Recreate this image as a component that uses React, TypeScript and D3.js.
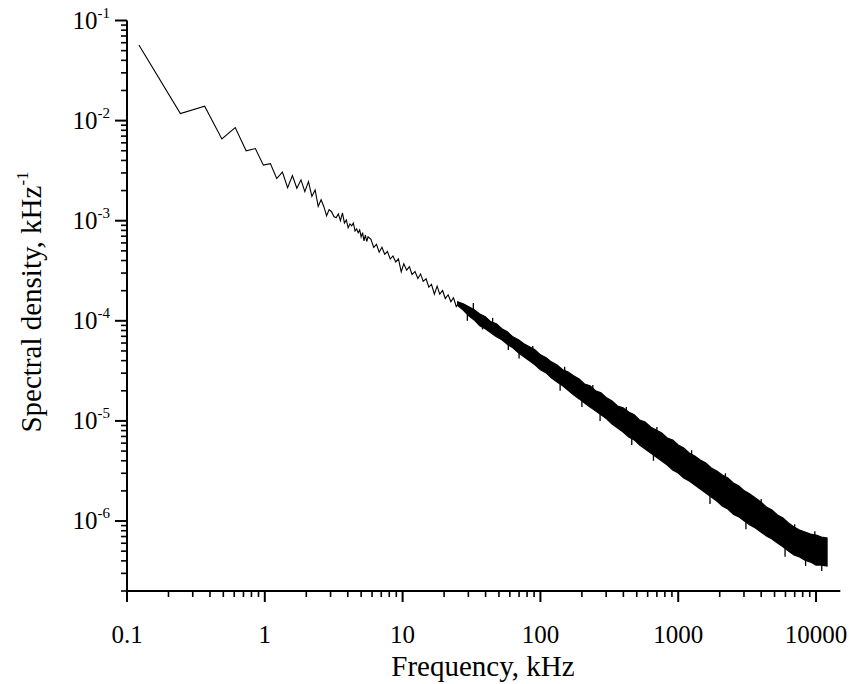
import React from 'react';
import * as d3 from 'd3';

const W = 849;
const H = 684;

// Low-frequency part: the visible jagged trace (kHz, kHz^-1)
const lineFreq = [
  0.122, 0.244, 0.366, 0.488, 0.61, 0.732, 0.854, 0.976, 1.098, 1.22,
  1.342, 1.464, 1.586, 1.708, 1.83, 1.952, 2.074, 2.196, 2.318, 2.44,
  2.562, 2.684, 2.806, 2.928, 3.05, 3.172, 3.294, 3.416, 3.538, 3.66,
  3.782, 3.904, 4.026, 4.148, 4.27, 4.392, 4.514, 4.636, 4.758, 4.88,
  5.002, 5.124, 5.246, 5.368, 5.49, 5.612,
  5.89, 6.17, 6.46, 6.76, 7.08, 7.41, 7.76, 8.13, 8.51, 8.91,
  9.33, 9.77, 10.2, 10.7, 11.2, 11.7, 12.3, 12.9, 13.5, 14.1,
  14.8, 15.5, 16.2, 17.0, 17.8, 18.6, 19.5, 20.4, 21.4, 22.4,
  23.4, 24.5, 25.7,
];
const lineDensity = [
  0.0569, 0.01175, 0.01393, 0.00656, 0.00851, 0.00499, 0.00526, 0.00359, 0.00372, 0.00264,
  0.00306, 0.00214, 0.00282, 0.00211, 0.00256, 0.00195, 0.00246, 0.00175, 0.00203, 0.00139,
  0.00162, 0.00138, 0.00112, 0.00129, 0.00123, 0.0011, 0.00107, 0.00117, 0.001, 0.0012,
  0.00095, 0.00102, 0.00085, 0.00093, 0.00089, 0.00095, 0.00079, 0.00083, 0.00076, 0.00081,
  0.00069, 0.00076, 0.00063, 0.00072, 0.00062, 0.00069,
  6.5e-4, 5.42e-4, 5.81e-4, 4.84e-4, 5.43e-4, 4.63e-4, 4.92e-4, 4.14e-4, 4.45e-4, 3.87e-4,
  4.16e-4, 3.09e-4, 3.72e-4, 3.21e-4, 3.48e-4, 2.9e-4, 3.11e-4, 2.65e-4, 2.94e-4, 2.48e-4,
  2.63e-4, 2.17e-4, 2.32e-4, 1.85e-4, 2.22e-4, 1.85e-4, 2.01e-4, 1.67e-4, 1.82e-4, 1.55e-4,
  1.7e-4, 1.39e-4, 1.52e-4,
];

// Dense part: envelope of the noisy trace (kHz, upper / lower kHz^-1)
const bandFreq = [
  25.1, 27.5, 30.2, 33.1, 36.3, 39.8, 43.7, 47.9, 52.5, 57.5,
  63.1, 69.2, 75.9, 83.2, 91.2, 100, 110, 120, 132, 145,
  158, 174, 191, 209, 229, 251, 275, 302, 331, 363,
  398, 437, 479, 525, 575, 631, 692, 759, 832, 912,
  1000, 1096, 1202, 1318, 1445, 1585, 1738, 1905, 2089, 2291,
  2512, 2754, 3020, 3311, 3631, 3981, 4365, 4786, 5248, 5754,
  6310, 6918, 7586, 8318, 9120, 10000, 10965, 12023,
];
const bandUpper = [
  1.55e-4, 1.48e-4, 1.38e-4, 1.29e-4, 1.17e-4, 1.1e-4, 9.77e-5, 9.33e-5, 8.32e-5, 7.76e-5,
  6.92e-5, 6.46e-5, 5.89e-5, 5.5e-5, 5.13e-5, 4.57e-5, 4.27e-5, 3.89e-5, 3.63e-5, 3.24e-5,
  3.09e-5, 2.82e-5, 2.63e-5, 2.34e-5, 2.24e-5, 2.0e-5, 1.91e-5, 1.7e-5, 1.58e-5, 1.41e-5,
  1.35e-5, 1.23e-5, 1.15e-5, 1.02e-5, 9.77e-6, 8.71e-6, 8.13e-6, 7.59e-6, 6.76e-6, 6.46e-6,
  5.75e-6, 5.37e-6, 4.79e-6, 4.47e-6, 4.07e-6, 3.8e-6, 3.39e-6, 3.16e-6, 2.88e-6, 2.69e-6,
  2.4e-6, 2.24e-6, 2.0e-6, 1.86e-6, 1.7e-6, 1.55e-6, 1.38e-6, 1.29e-6, 1.15e-6, 1.07e-6,
  9.55e-7, 8.71e-7, 8.13e-7, 7.76e-7, 7.41e-7, 7.24e-7, 6.92e-7, 6.76e-7,
];
const bandLower = [
  1.42e-4, 1.28e-4, 1.12e-4, 1.02e-4, 8.91e-5, 8.32e-5, 7.59e-5, 6.92e-5, 6.46e-5, 5.82e-5,
  5.37e-5, 4.79e-5, 4.37e-5, 3.98e-5, 3.63e-5, 3.24e-5, 3.02e-5, 2.69e-5, 2.45e-5, 2.24e-5,
  2.04e-5, 1.82e-5, 1.66e-5, 1.51e-5, 1.38e-5, 1.26e-5, 1.15e-5, 1.05e-5, 9.33e-6, 8.51e-6,
  7.76e-6, 6.92e-6, 6.46e-6, 5.75e-6, 5.25e-6, 4.79e-6, 4.37e-6, 3.98e-6, 3.63e-6, 3.24e-6,
  3.02e-6, 2.69e-6, 2.51e-6, 2.29e-6, 2.09e-6, 1.91e-6, 1.74e-6, 1.58e-6, 1.41e-6, 1.32e-6,
  1.17e-6, 1.1e-6, 1.0e-6, 9.12e-7, 8.51e-7, 7.76e-7, 7.08e-7, 6.61e-7, 6.03e-7, 5.53e-7,
  5.01e-7, 4.57e-7, 4.37e-7, 4.07e-7, 3.89e-7, 3.63e-7, 3.63e-7, 3.55e-7,
];

// Isolated noise needles sticking out of the band (kHz, tip, base in kHz^-1)
const spikeFreq = [
  29.5, 32.6, 38, 45, 58.5, 70, 88, 139, 150, 200,
  240, 271, 420, 460, 661, 700, 1250, 1700, 2200, 3100,
  4000, 5960, 7000, 8400, 9800, 11000,
];
const spikeTip = [
  1.0e-4, 1.51e-4, 8.2e-5, 1.07e-4, 5.1e-5, 4.2e-5, 5.6e-5, 2.0e-5, 3.47e-5, 1.38e-5,
  2.29e-5, 1.0e-5, 1.38e-5, 5.75e-6, 4.0e-6, 8.7e-6, 5.1e-6, 1.48e-6, 3.0e-6, 8.3e-7,
  1.66e-6, 4.4e-7, 9.3e-7, 3.55e-7, 7.9e-7, 3.16e-7,
];
const spikeBase = [
  1.2e-4, 1.25e-4, 1.0e-4, 8.5e-5, 6.3e-5, 5.5e-5, 4.4e-5, 2.8e-5, 2.6e-5, 2.0e-5,
  1.66e-5, 1.4e-5, 9.7e-6, 8.9e-6, 5.5e-6, 5.9e-6, 3.4e-6, 2.5e-6, 1.9e-6, 1.4e-6,
  1.1e-6, 6.5e-7, 6.3e-7, 6.0e-7, 5.2e-7, 5.0e-7,
];

const xTickValues = [0.1, 1, 10, 100, 1000, 10000];
const xTickLabels = ['0.1', '1', '10', '100', '1000', '10000'];
const yTickValues = [1e-1, 1e-2, 1e-3, 1e-4, 1e-5, 1e-6];
const yTickExponents = ['-1', '-2', '-3', '-4', '-5', '-6'];
const xDomain = [0.1, 15000];
const yDomain = [2e-7, 0.1];

const FONT = '"Liberation Serif", "Times New Roman", Times, serif';

export default function App() {
  const left = 127;
  const right = 840.3;
  const top = 20.5;
  const bottom = 591;

  const x = d3.scaleLog().domain(xDomain).range([left, right]);
  const y = d3.scaleLog().domain(yDomain).range([bottom, top]);

  const isMajor = (v: number) => Math.abs(Math.log10(v) - Math.round(Math.log10(v))) < 1e-6;
  const xMinor = x.ticks().filter((v) => !isMajor(v));
  const yMinor = y.ticks().filter((v) => !isMajor(v));

  const lineData = lineFreq.map((f, i) => [f, lineDensity[i]] as [number, number]);
  const linePath = d3
    .line<[number, number]>()
    .x((d) => x(d[0]))
    .y((d) => y(d[1]))(lineData) as string;

  const bandData = bandFreq.map((f, i) => ({ f, hi: bandUpper[i], lo: bandLower[i] }));
  const bandPath = d3
    .area<{ f: number; hi: number; lo: number }>()
    .x((d) => x(d.f))
    .y0((d) => y(d.lo))
    .y1((d) => y(d.hi))(bandData) as string;

  return (
    <svg
      width={W}
      height={H}
      style={{ position: 'absolute', left: 0, top: 0, background: '#fff' }}
      fontFamily={FONT}
    >
      <rect x={0} y={0} width={W} height={H} fill="#fff" />
      {/* data */}
      <path d={linePath} fill="none" stroke="#000" strokeWidth={1.1} strokeLinejoin="miter" />
      <path d={bandPath} fill="#000" stroke="#000" strokeWidth={1.2} />
      {spikeFreq.map((f, i) => (
        <line
          key={'sp' + i}
          x1={x(f)}
          x2={x(f)}
          y1={y(spikeBase[i])}
          y2={y(spikeTip[i])}
          stroke="#000"
          strokeWidth={1.3}
        />
      ))}

      {/* axes lines */}
      <line x1={left} x2={left} y1={top} y2={bottom} stroke="#000" strokeWidth={2} />
      <line x1={left} x2={right} y1={bottom} y2={bottom} stroke="#000" strokeWidth={2} />

      {/* x ticks */}
      {xTickValues.map((v, i) => (
        <g key={'xt' + i}>
          <line x1={x(v)} x2={x(v)} y1={bottom} y2={bottom + 11} stroke="#000" strokeWidth={2} />
          <text x={x(v)} y={643} textAnchor="middle" fontSize={25}>
            {xTickLabels[i]}
          </text>
        </g>
      ))}
      {xMinor.map((v, i) => (
        <line key={'xm' + i} x1={x(v)} x2={x(v)} y1={bottom} y2={bottom + 6} stroke="#000" strokeWidth={1.6} />
      ))}

      {/* y ticks */}
      {yTickValues.map((v, i) => (
        <g key={'yt' + i}>
          <line x1={left - 12} x2={left} y1={y(v)} y2={y(v)} stroke="#000" strokeWidth={2} />
          <text x={110} y={y(v) + 8} textAnchor="end" fontSize={25}>
            10
            <tspan dy={-11} fontSize={15}>
              {yTickExponents[i]}
            </tspan>
          </text>
        </g>
      ))}
      {yMinor.map((v, i) => (
        <line key={'ym' + i} x1={left - 6} x2={left} y1={y(v)} y2={y(v)} stroke="#000" strokeWidth={1.6} />
      ))}

      {/* titles */}
      <text x={483} y={676} textAnchor="middle" fontSize={29}>
        Frequency, kHz
      </text>
      <text transform={`translate(41, 302) rotate(-90)`} textAnchor="middle" fontSize={29}>
        Spectral density, kHz
        <tspan dy={-13} fontSize={17}>
          -1
        </tspan>
      </text>
    </svg>
  );
}
